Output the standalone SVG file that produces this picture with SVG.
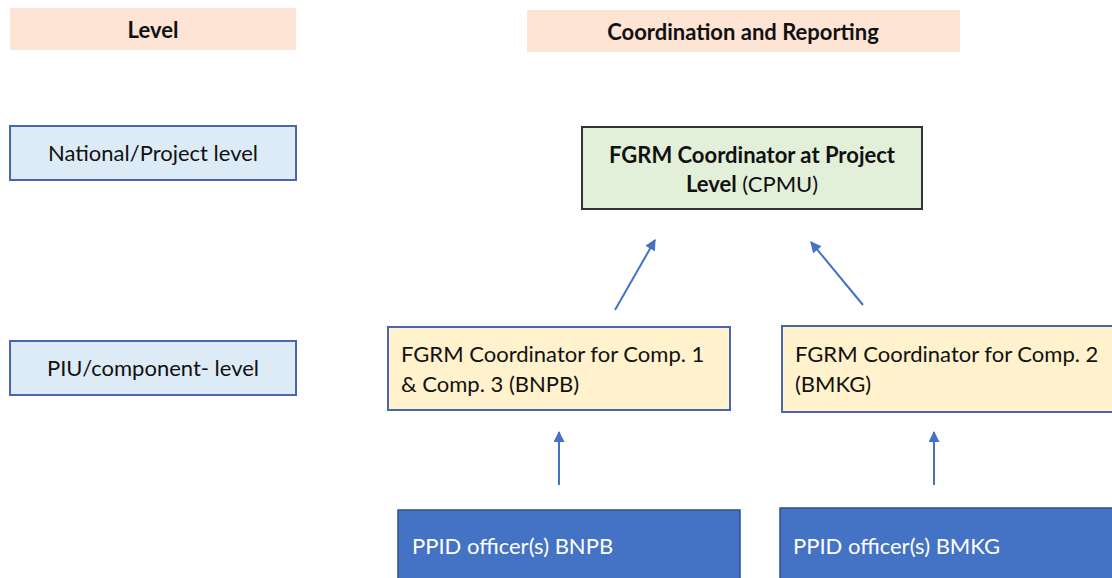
<svg xmlns="http://www.w3.org/2000/svg" width="1112" height="578" viewBox="0 0 1112 578">
<defs>
<marker id="ah" viewBox="0 0 10 10" refX="9" refY="5" markerWidth="13" markerHeight="11" orient="auto" markerUnits="userSpaceOnUse">
<path d="M0,0 L10,5 L0,10 z" fill="#4472C4"/>
</marker>
<style>
text{font-family:Lato,"Open Sans","Liberation Sans",sans-serif;font-size:22px;fill:#111}
.hdr{fill:#FDE4D5}
.lvl{fill:#DDEBF7;stroke:#4A67AE;stroke-width:2}
.top{fill:#E2F0D9;stroke:#333;stroke-width:2}
.mid{fill:#FFF2CC;stroke:#4A67AE;stroke-width:2}
.bot{fill:#4472C4;stroke:#2F528F;stroke-width:1.5}
.b{font-weight:bold}
.w{fill:#fff}
.conn line{stroke:#4472C4;stroke-width:2;marker-end:url(#ah)}
</style>
</defs>
<rect width="1112" height="578" fill="#fff"/>
<g id="hdr-level"><rect class="hdr" x="10" y="8" width="286" height="42"/><text class="b" x="153" y="38" text-anchor="middle">Level</text></g>
<g id="hdr-coord"><rect class="hdr" x="527" y="10" width="433" height="42"/><text class="b" x="743" y="40" text-anchor="middle">Coordination and Reporting</text></g>
<g id="lvl-national"><rect class="lvl" x="10" y="126" width="286" height="54"/><text x="153" y="161" text-anchor="middle">National/Project level</text></g>
<g id="lvl-piu"><rect class="lvl" x="10" y="341" width="286" height="54"/><text x="153" y="376" text-anchor="middle">PIU/component- level</text></g>
<g id="cpmu"><rect class="top" x="582" y="127" width="340" height="82"/><text class="b" x="752" y="163" text-anchor="middle">FGRM Coordinator at Project</text><text x="752" y="192" text-anchor="middle"><tspan class="b">Level</tspan> (CPMU)</text></g>
<g id="comp13"><rect class="mid" x="388" y="327" width="342" height="83"/><text x="401" y="362">FGRM Coordinator for Comp. 1</text><text x="401" y="392">&amp; Comp. 3 (BNPB)</text></g>
<g id="comp2"><rect class="mid" x="782" y="326" width="340" height="86"/><text x="795" y="362">FGRM Coordinator for Comp. 2</text><text x="795" y="392">(BMKG)</text></g>
<g id="ppid-bnpb"><rect class="bot" x="398" y="510" width="342" height="80"/><text class="w" x="412" y="554">PPID officer(s) BNPB</text></g>
<g id="ppid-bmkg"><rect class="bot" x="780" y="508" width="342" height="82"/><text class="w" x="793" y="554">PPID officer(s) BMKG</text></g>
<g id="connectors" class="conn">
<line x1="615" y1="310" x2="655" y2="240"/>
<line x1="863" y1="305" x2="811" y2="242"/>
<line x1="559" y1="485" x2="559" y2="432"/>
<line x1="934" y1="485" x2="934" y2="432"/>
</g>
</svg>
